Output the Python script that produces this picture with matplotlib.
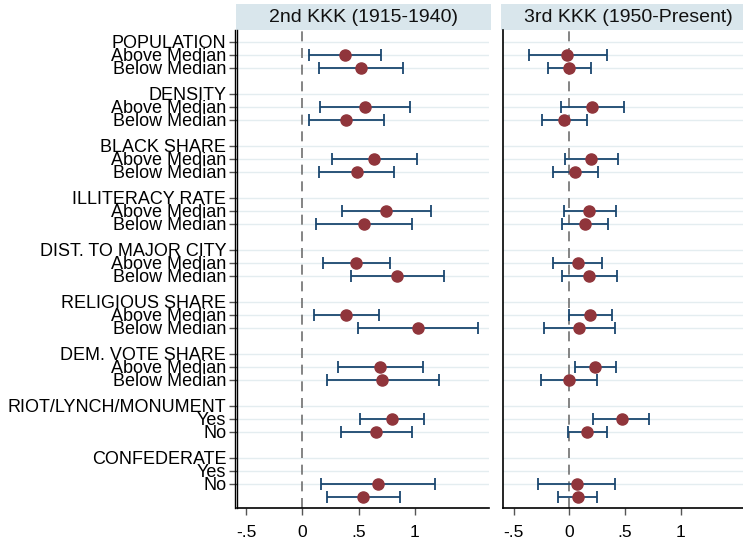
import matplotlib
matplotlib.use("Agg")
import matplotlib.pyplot as plt
from matplotlib.patches import Rectangle
from matplotlib.lines import Line2D
import numpy as np

plt.rcParams['font.family'] = ['Liberation Sans', 'DejaVu Sans']

groups = ["POPULATION", "DENSITY", "BLACK SHARE", "ILLITERACY RATE",
          "DIST. TO MAJOR CITY", "RELIGIOUS SHARE", "DEM. VOTE SHARE",
          "RIOT/LYNCH/MONUMENT", "CONFEDERATE"]
sub_median = ["Above Median", "Below Median"]
sub_yesno = ["Yes", "No"]

# rows (0 = top) where estimates are drawn
point_rows = [1, 2, 5, 6, 9, 10, 13, 14, 17, 18, 21, 22, 25, 26, 29, 30, 34, 35]

kkk2_est = [0.38, 0.52, 0.554, 0.392, 0.64, 0.482, 0.748, 0.548, 0.479, 0.847,
            0.392, 1.027, 0.695, 0.712, 0.80, 0.659, 0.677, 0.542]
kkk2_lo = [0.06, 0.144, 0.155, 0.057, 0.26, 0.152, 0.35, 0.122, 0.182, 0.434,
           0.104, 0.494, 0.314, 0.215, 0.515, 0.347, 0.17, 0.218]
kkk2_hi = [0.70, 0.90, 0.958, 0.728, 1.024, 0.817, 1.147, 0.973, 0.778, 1.26,
           0.68, 1.563, 1.075, 1.216, 1.087, 0.973, 1.18, 0.865]

kkk3_est = [-0.021, -0.003, 0.204, -0.048, 0.198, 0.054, 0.18, 0.141, 0.075, 0.177,
            0.186, 0.087, 0.231, -0.003, 0.47, 0.159, 0.066, 0.075]
kkk3_lo = [-0.365, -0.194, -0.075, -0.251, -0.039, -0.146, -0.048, -0.068, -0.146, -0.068,
           -0.006, -0.233, 0.048, -0.254, 0.216, -0.012, -0.284, -0.099]
kkk3_hi = [0.333, 0.192, 0.488, 0.159, 0.437, 0.258, 0.417, 0.35, 0.297, 0.426,
           0.381, 0.411, 0.417, 0.249, 0.713, 0.333, 0.408, 0.249]

panel_titles = ["2nd KKK (1915-1940)", "3rd KKK (1950-Present)"]
xticks = [-0.5, 0, 0.5, 1]
xticklabels = ["-.5", "0", ".5", "1"]

# label rows
label_rows = []
label_texts = []
for g, name in enumerate(groups):
    subs = sub_yesno if g >= 7 else sub_median
    label_rows += [4 * g, 4 * g + 1, 4 * g + 2]
    label_texts += [name] + subs

W, H = 743, 539
fig = plt.figure(figsize=(W / 100, H / 100), dpi=100)

navy = '#1a476f'
maroon = '#90353b'
grid_c = '#e4edf0'
head_c = '#d9e6ec'

top_px, bot_px = 30, 508
panel_w = 252
lefts = [237.3, 502.7]

data = [(kkk2_est, kkk2_lo, kkk2_hi), (kkk3_est, kkk3_lo, kkk3_hi)]

for i in range(2):
    ax = fig.add_axes([lefts[i] / W, 1 - bot_px / H, panel_w / W, (bot_px - top_px) / H])
    est, lo, hi = data[i]
    est = np.array(est); lo = np.array(lo); hi = np.array(hi)
    rows = np.array(point_rows)
    for r in label_rows:
        ax.axhline(r, color=grid_c, lw=1.0, zorder=0)
    ax.axvline(0, color='#707070', lw=1.2, ls=(0, (6, 4)), zorder=1)
    ax.errorbar(est, rows, xerr=[est - lo, hi - est], fmt='none', ecolor=navy,
                elinewidth=1.3, capsize=4, capthick=1.3, zorder=2)
    ax.plot(est, rows, 'o', color=maroon, ms=8, zorder=3, mec=maroon)
    ax.set_xlim(-0.6 + (0.02 if i == 0 else 0), 1.665)
    ax.set_ylim(35.85, -0.9)
    ax.set_xticks(xticks)
    ax.set_xticklabels(xticklabels, fontsize=12.5)
    ax.tick_params(axis='x', direction='out', length=5, width=1, color='#555555', pad=7)
    for s in ['top', 'right']:
        ax.spines[s].set_visible(False)
    ax.spines['left'].set_linewidth(1.0 if i == 0 else 1.2)
    ax.spines['bottom'].set_linewidth(1.2)
    if i == 0:
        ax.set_yticks(label_rows)
        ax.set_yticklabels(label_texts, fontsize=13)
        ax.tick_params(axis='y', direction='out', length=6, width=1, color='#555555', pad=2)
        # second vertical line (double axis line)
        fig.add_artist(Line2D([235 / W, 235 / W], [1 - bot_px / H, 1 - top_px / H],
                              color='black', lw=1.0))
    else:
        ax.set_yticks([])
    # header strip
    hh = 25.7 / (bot_px - top_px)
    rect = Rectangle((-0.005 if i == 0 else -0.008, 1.0), 1.01, hh, transform=ax.transAxes,
                     facecolor=head_c, edgecolor='none', clip_on=False, zorder=0)
    ax.add_patch(rect)
    ax.text(0.5, 1 + hh / 2, panel_titles[i], transform=ax.transAxes, ha='center',
            va='center', fontsize=14, color='#111111')

fig.savefig("out.png", dpi=100)
